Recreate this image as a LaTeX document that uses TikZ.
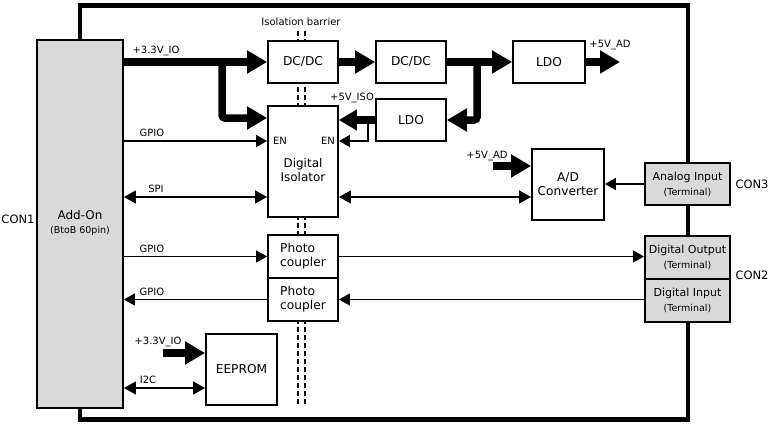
\documentclass[tikz,border=0pt]{standalone}
\usepackage{fontspec}
\setmainfont{DejaVu Sans}
\usetikzlibrary{arrows.meta}
\definecolor{termgray}{RGB}{217,217,217}
\begin{document}
\begin{tikzpicture}[x=1pt,y=-1pt,
  box/.style={draw,line width=1.8pt,fill=white,inner sep=0pt,align=center,
              font=\fontsize{12.2}{14}\selectfont},
  term/.style={box,fill=termgray,font=\fontsize{11}{15}\selectfont},
  lbl/.style={inner sep=0pt,font=\fontsize{10}{11}\selectfont},
  txt/.style={inner sep=0pt,align=center,font=\fontsize{12}{14}\selectfont},
  sig/.style={line width=1.3pt,-{Triangle[length=11pt,width=12pt]}},
  sigboth/.style={line width=1.3pt,{Triangle[length=12pt,width=13pt]}-{Triangle[length=12pt,width=13pt]}},
  pwr/.style={line width=7.5pt,-{Triangle[length=20pt,width=22pt]}},
  barrier/.style={line width=2pt,dash pattern=on 5pt off 3pt},
]
\useasboundingbox (0,0) rectangle (780,431);

% outer frame
\draw[line width=4.5pt] (80,5.5) rectangle (688,419.5);

% isolation barrier
\draw[barrier] (298,31) -- (298,406);
\draw[barrier] (305,31) -- (305,406);
\node[lbl] (barlbl) at (301,22) {Isolation barrier};

% boxes
\node[box,fill=termgray,minimum width=86pt,minimum height=368pt] (addon) at (80,224) {};
\node[txt] (addonlbl) at (80,215) {Add-On};
\node[inner sep=0pt,font=\fontsize{9.5}{11}\selectfont] (addonsub) at (80,231) {(BtoB 60pin)};
\node[inner sep=0pt,font=\fontsize{11.5}{13}\selectfont] (con1) at (18,219) {CON1};

\node[box,minimum width=70pt,minimum height=42pt] (dcdc1) at (303,62) {DC/DC};
\node[box,minimum width=70pt,minimum height=42pt] (dcdc2) at (411,62) {DC/DC};
\node[box,minimum width=72pt,minimum height=42pt] (ldo1) at (549,62) {LDO};
\node[box,minimum width=70pt,minimum height=42pt] (ldo2) at (411,120) {LDO};
\node[box,minimum width=70pt,minimum height=111pt] (iso) at (303,161.5) {};
\node[txt] (isolbl) at (303,170) {Digital\\Isolator};
\node[box,minimum width=72pt,minimum height=71pt] (adc) at (568,184.5) {A/D\\Converter};
\node[box,minimum width=70pt,minimum height=43pt,align=left] (pc1) at (303,256.5) {Photo\\coupler};
\node[box,minimum width=70pt,minimum height=43pt,align=left] (pc2) at (303,299.5) {Photo\\coupler};
\node[box,minimum width=71pt,minimum height=71pt] (eeprom) at (241.5,369.5) {EEPROM};

\node[term,minimum width=85pt,minimum height=42pt] (ain) at (687.5,184) {Analog Input\\{\fontsize{9.5}{15}\selectfont(Terminal)}};
\node[term,minimum width=85pt,minimum height=43pt] (dout) at (687.5,257.5) {Digital Output\\{\fontsize{9.5}{15}\selectfont(Terminal)}};
\node[term,minimum width=85pt,minimum height=43pt] (din) at (687.5,300.5) {Digital Input\\{\fontsize{9.5}{15}\selectfont(Terminal)}};
\node[inner sep=0pt,font=\fontsize{11.5}{13}\selectfont] (con3) at (752,184) {CON3};
\node[inner sep=0pt,font=\fontsize{11.5}{13}\selectfont] (con2) at (752,275) {CON2};

% level coordinates
\coordinate (j1) at (222,62);
\coordinate (y118) at (0,118);
\coordinate (j2) at (477,62);
\coordinate (out5v) at (620,62);
\coordinate (j3) at (368,120);
\coordinate (y141) at (0,141);
\coordinate (y197) at (0,197);
\coordinate (in5v) at (493,166);
\coordinate (in33) at (163,353);
\coordinate (y388) at (0,388);

% power connectors
\draw[pwr] (addon.east |- dcdc1) -- (dcdc1.west);
\draw[pwr,rounded corners=3pt] (j1) |- (iso.west |- y118);
\draw[pwr] (dcdc1.east) -- (dcdc2.west);
\draw[pwr] (dcdc2.east) -- (ldo1.west);
\draw[pwr,rounded corners=3pt] (j2) |- (ldo2.east);
\draw[pwr] (ldo1.east) -- (out5v);
\draw[pwr,-{Triangle[length=18pt,width=20pt]}] (ldo2.west) -- (iso.east |- ldo2);
\draw[pwr] (in5v) -- (adc.west |- in5v);
\draw[pwr] (in33) -- (eeprom.west |- in33);

% signal connectors
\draw[sig] (j3) |- (iso.east |- y141);
\draw[sig] (addon.east |- y141) -- (iso.west |- y141);
\draw[sigboth] (addon.east |- y197) -- (iso.west |- y197);
\draw[sigboth] (iso.east |- y197) -- (adc.west |- y197);
\draw[sig] (ain.west) -- (adc.east |- ain.west);
\draw[sig] (addon.east |- pc1) -- (pc1.west);
\draw[sig] (pc1.east) -- (dout.west |- pc1.east);
\draw[sig] (din.west |- pc2.east) -- (pc2.east);
\draw[sig] (pc2.west) -- (addon.east |- pc2);
\draw[sigboth] (addon.east |- y388) -- (eeprom.west |- y388);

% labels
\node[lbl] (l33a) at (156,51) {+3.3V\_IO};
\node[lbl] (l5iso) at (352,98) {+5V\_ISO};
\node[lbl] (l5ad1) at (610,45) {+5V\_AD};
\node[lbl] (l5ad2) at (487,156) {+5V\_AD};
\node[lbl] (lgpio1) at (152,133) {GPIO};
\node[lbl] (lspi) at (156,189) {SPI};
\node[lbl] (lgpio2) at (152,249) {GPIO};
\node[lbl] (lgpio3) at (152,292) {GPIO};
\node[lbl] (l33b) at (158,342) {+3.3V\_IO};
\node[lbl] (li2c) at (148,380) {I2C};
\node[lbl] (len1) at (280,141) {EN};
\node[lbl] (len2) at (328,141) {EN};
\end{tikzpicture}
\end{document}
